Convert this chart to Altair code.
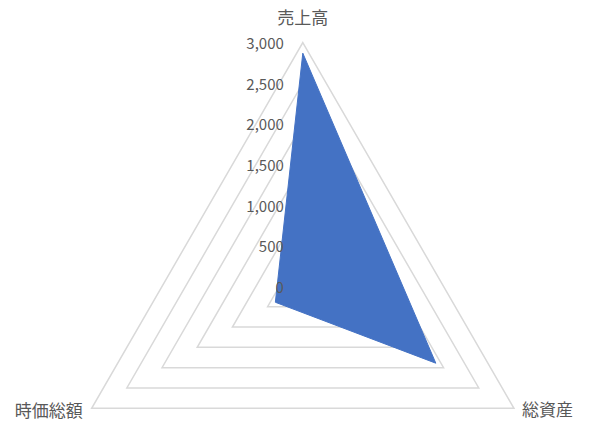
import math
import altair as alt
import pandas as pd

# ---- data ----
categories = ["売上高", "総資産", "時価総額"]
values = [2870, 1890, 390]
tick_values = [0, 500, 1000, 1500, 2000, 2500, 3000]
tick_labels = ["0", "500", "1,000", "1,500", "2,000", "2,500", "3,000"]
max_value = 3000

n = len(categories)

series_df = pd.DataFrame({
    "category": categories,
    "value": values,
    "idx": list(range(n)),
})

grid_df = pd.DataFrame(
    [{"level": t, "idx": i} for t in tick_values if t > 0 for i in range(n)]
)

tick_df = pd.DataFrame({"value": tick_values, "label": tick_labels})

label_df = pd.DataFrame({
    "category": categories,
    "idx": list(range(n)),
    "r": [max_value] * n,
})

ang = f"datum.idx * 2 * PI / {n}"

xscale = alt.Scale(domain=[-3566.0, 3558.6], nice=False, zero=False)
yscale = alt.Scale(domain=[-1619.3, 3425.8], nice=False, zero=False)

X = lambda: alt.X("px:Q", scale=xscale, axis=None)
Y = lambda: alt.Y("py:Q", scale=yscale, axis=None)

grid = alt.Chart(grid_df).transform_calculate(
    px=f"datum.level * sin({ang})",
    py=f"datum.level * cos({ang})",
).mark_line(
    interpolate="linear-closed", stroke="#d9d9d9", strokeWidth=1.5
).encode(
    x=X(), y=Y(), detail="level:N", order="idx:Q"
)

area = alt.Chart(series_df).transform_calculate(
    px=f"datum.value * sin({ang})",
    py=f"datum.value * cos({ang})",
).mark_line(
    interpolate="linear-closed", fill="#4472C4", stroke="#4472C4", strokeWidth=1
).encode(
    x=X(), y=Y(), order="idx:Q"
)

ticks = alt.Chart(tick_df).transform_calculate(
    px="0",
    py="datum.value",
).mark_text(
    align="right", baseline="middle", dx=-19, dy=1.5,
    font="Noto Sans CJK JP", fontSize=15, color="#595959"
).encode(
    x=X(), y=Y(), text="label:N"
)

def cat_label(i, align, dx, dy):
    return alt.Chart(label_df).transform_filter(
        f"datum.idx == {i}"
    ).transform_calculate(
        px=f"datum.r * sin({ang})",
        py=f"datum.r * cos({ang})",
    ).mark_text(
        align=align, baseline="middle", dx=dx, dy=dy,
        font="Noto Sans CJK JP", fontSize=17, color="#595959"
    ).encode(
        x=X(), y=Y(), text="category:N"
    )

labels = (
    cat_label(0, "center", 0, -24)
    + cat_label(1, "left", 8, 3)
    + cat_label(2, "right", -9, 4)
)

chart = alt.layer(grid, area, ticks, labels).properties(
    width=579, height=410,
    padding={"top": 0, "left": 5, "right": 5, "bottom": 5},
    autosize="none"
).configure_view(stroke=None)

chart.save("out.html", embed_options={"renderer": "svg", "actions": False})
